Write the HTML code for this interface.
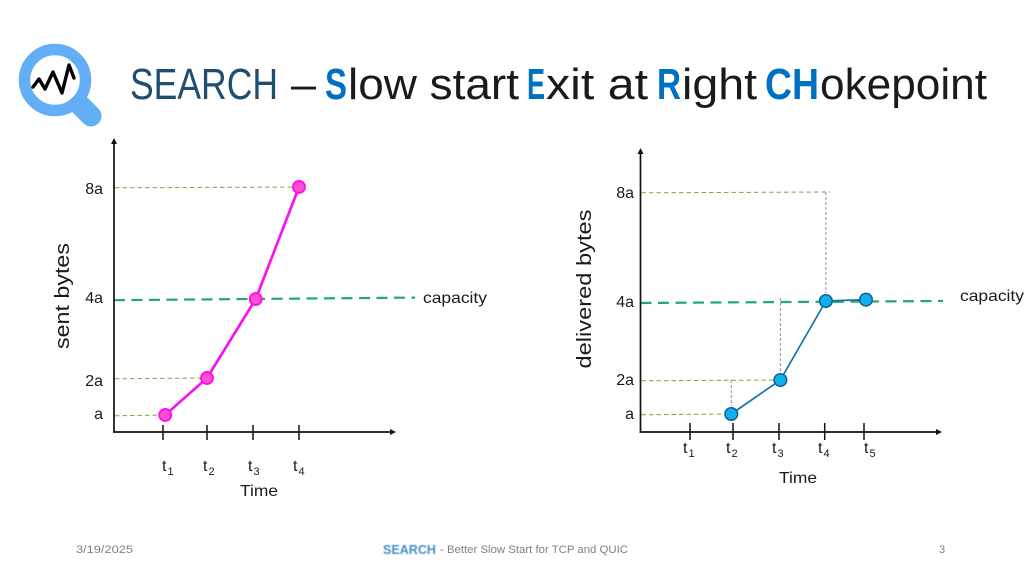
<!DOCTYPE html>
<html lang="en">
<head>
<meta charset="utf-8">
<title>SEARCH – Slow start Exit at Right CHokepoint</title>
<style>
html,body{margin:0;padding:0;background:#fff;width:1024px;height:576px;overflow:hidden}
svg{display:block}
text{font-family:"Liberation Sans",sans-serif;fill:#1a1a1a}
</style>
</head>
<body>
<svg id="slide" width="1024" height="576" viewBox="0 0 1024 576" xmlns="http://www.w3.org/2000/svg">
  <defs>
    <filter id="soft" x="-10%" y="-30%" width="120%" height="160%"><feGaussianBlur stdDeviation="0.6"/></filter>
  </defs>
  <g>
    <line x1="81" y1="106" x2="91" y2="116" stroke="#63aef5" stroke-width="21" stroke-linecap="round"/>
    <circle cx="55" cy="80" r="30.5" fill="#fff" stroke="#63aef5" stroke-width="11.5"/>
    <polyline points="33,87 39,79 45,89 53,72 62,93 69,65 74,78" fill="none" stroke="#000" stroke-width="3.4" stroke-linejoin="round" stroke-linecap="round"/>
  </g>
  <g font-size="44">
    <text x="130" y="99" textLength="148" lengthAdjust="spacingAndGlyphs" style="fill:#1f4e6f">SEARCH</text>
    <text x="291" y="99" textLength="25" lengthAdjust="spacingAndGlyphs">–</text>
    <text x="325" y="99" textLength="22" lengthAdjust="spacingAndGlyphs" font-weight="700" style="fill:#0070c0">S</text>
    <text x="348" y="99" textLength="171" lengthAdjust="spacingAndGlyphs">low start</text>
    <text x="527" y="99" textLength="18" lengthAdjust="spacingAndGlyphs" font-weight="700" style="fill:#0070c0">E</text>
    <text x="546" y="99" textLength="102" lengthAdjust="spacingAndGlyphs">xit at</text>
    <text x="657" y="99" textLength="24" lengthAdjust="spacingAndGlyphs" font-weight="700" style="fill:#0070c0">R</text>
    <text x="682" y="99" textLength="75" lengthAdjust="spacingAndGlyphs">ight</text>
    <text x="765" y="99" textLength="54" lengthAdjust="spacingAndGlyphs" font-weight="700" style="fill:#0070c0">CH</text>
    <text x="820" y="99" textLength="167" lengthAdjust="spacingAndGlyphs">okepoint</text>
  </g>
  <g id="chart-sent"></g>
  <g id="chart-delivered"></g>
  <g font-size="11">
    <text x="76" y="553" textLength="57" lengthAdjust="spacingAndGlyphs" style="fill:#7f7f7f">3/19/2025</text>
    <text x="383" y="554" textLength="53" lengthAdjust="spacingAndGlyphs" font-size="13" font-weight="700" filter="url(#soft)" style="fill:#3f8fc4">SEARCH</text>
    <text x="440" y="553" textLength="188" lengthAdjust="spacingAndGlyphs" style="fill:#7f7f7f">- Better Slow Start for TCP and QUIC</text>
    <text x="939" y="553" style="fill:#7f7f7f">3</text>
  </g>
</svg>
<script>
// Data: left chart (sent bytes)
const sentTicks = ["1", "2", "3", "4"];
const sentLevels = ["a", "2a", "4a", "8a"];
const sentTimes = [1.05, 2, 3.06, 4];
const sentBytes = [1, 2, 4, 8];
const sentCapacity = [3.97, 4.05];
const sentGuideTimes = [1.05, 1.96, null, 4];

// Data: right chart (delivered bytes)
const deliveredTicks = ["1", "2", "3", "4", "5"];
const deliveredLevels = ["a", "2a", "4a", "8a"];
const deliveredTimes = [1.96, 3.03, 4.03, 5.05];
const deliveredBytes = [1, 2, 4, 4.05];
const deliveredCapacity = [3.95, 4];
const deliveredGuideTimes = [1.96, 3.03, null, 4.14];

const levelValues = [1, 2, 4, 8];
const NS = "http://www.w3.org/2000/svg";

function piecewise(domain, range) {
  return function (v) {
    let i = 0;
    while (i < domain.length - 2 && v > domain[i + 1]) i++;
    const t = (v - domain[i]) / (domain[i + 1] - domain[i]);
    return range[i] + t * (range[i + 1] - range[i]);
  };
}
function make(parent, tag, attrs, content) {
  const el = document.createElementNS(NS, tag);
  for (const k in attrs) el.setAttribute(k, attrs[k]);
  if (content !== undefined) el.textContent = content;
  parent.appendChild(el);
  return el;
}
function drawChart(root, cfg) {
  const tickNums = cfg.ticks.map(Number);
  const x = piecewise(tickNums, cfg.xRange);
  const xLabel = piecewise(tickNums, cfg.xLabelRange);
  const y = piecewise(levelValues, cfg.yRange);

  // guides
  cfg.levels.forEach(function (lab, i) {
    const lv = levelValues[i];
    const gt = cfg.guideTimes[i];
    if (gt === null) return;
    const g = make(root, "line", {x1: cfg.axisX + 1, y1: y(lv) + 0.8, x2: x(gt), y2: y(lv), stroke: "#70ad47", "stroke-width": 1, "stroke-dasharray": "4.5 3"});
    
    
  });
  // time droplines
  for (let i = 0; i < cfg.dropFrom.length; i++) {
    const d = cfg.dropFrom[i];
    const dl = make(root, "line", {x1: x(d.t), y1: y(d.top) - d.over, x2: x(d.t), y2: y(d.bottom) - d.gap, stroke: "#8f87b8", "stroke-width": 1, "stroke-dasharray": "3 2"});
    
    
  }
  // capacity
  const cap = make(root, "line", {x1: cfg.axisX, y1: y(cfg.capacity[0]), x2: cfg.capEnd, y2: y(cfg.capacity[1]), stroke: "#1eaa6a", "stroke-width": 2.2, "stroke-dasharray": "11 6.5"});
  
  

  // axes
  const yAxis = make(root, "line", {x1: cfg.axisX, y1: cfg.axisY, x2: cfg.axisX, y2: cfg.axisTop + 4, stroke: "#111", "stroke-width": 1.7});
  
  
  const yHead = make(root, "polygon", {points: (cfg.axisX - 3) + "," + (cfg.axisTop + 6) + " " + (cfg.axisX + 3) + "," + (cfg.axisTop + 6) + " " + cfg.axisX + "," + cfg.axisTop, fill: "#111"});
  
  
  const xAxis = make(root, "line", {x1: cfg.axisX - 1, y1: cfg.axisY, x2: cfg.axisEnd - 4, y2: cfg.axisY, stroke: "#111", "stroke-width": 1.7});
  
  
  const xHead = make(root, "polygon", {points: (cfg.axisEnd - 6) + "," + (cfg.axisY - 3) + " " + (cfg.axisEnd - 6) + "," + (cfg.axisY + 3) + " " + cfg.axisEnd + "," + cfg.axisY, fill: "#111"});
  
  

  // ticks and labels
  cfg.ticks.forEach(function (tk) {
    const n = Number(tk);
    const t = make(root, "line", {x1: x(n), y1: cfg.axisY - cfg.tickUp, x2: x(n), y2: cfg.axisY + 8, stroke: "#111", "stroke-width": 1.5});
    
    
    const lab = make(root, "text", {x: xLabel(n), y: cfg.tickLabelY, "font-size": 16}, "t");
    
    
    const sub = make(lab, "tspan", {dx: 1, dy: 4, "font-size": 11}, tk);
    
    
  });
  cfg.levels.forEach(function (lab, i) {
    const lv = levelValues[i];
    const tl = make(root, "text", {x: cfg.levelLabelX, y: y(lv) + cfg.levelLabelDy[i], "font-size": 16, "text-anchor": "end"}, lab);
    
    
  });

  // series
  const pts = cfg.times.map(function (t, i) { return x(t) + "," + y(cfg.bytes[i]); }).join(" ");
  const line = make(root, "polyline", {points: pts, fill: "none", stroke: cfg.lineColor, "stroke-width": cfg.lineWidth, "stroke-linejoin": "round"});
  
  
  cfg.times.forEach(function (t, i) {
    const c = make(root, "circle", {cx: x(t), cy: y(cfg.bytes[i]), r: cfg.r, fill: cfg.fill, stroke: cfg.stroke, "stroke-width": cfg.strokeWidth});
    
    
  });

  // titles
  const ty = make(root, "text", {transform: "translate(" + cfg.yTitleX + " " + cfg.yTitleY + ") rotate(-90)", "font-size": 20, "text-anchor": "middle", textLength: cfg.yTitleLen, lengthAdjust: "spacingAndGlyphs"}, cfg.yTitle);
  
  
  const tx = make(root, "text", {x: cfg.xTitleX, y: cfg.xTitleY, "font-size": 16, textLength: 38, lengthAdjust: "spacingAndGlyphs"}, "Time");
  
  
  const cl = make(root, "text", {x: cfg.capX, y: cfg.capY, "font-size": 16, textLength: 64, lengthAdjust: "spacingAndGlyphs"}, "capacity");
  
  
}

drawChart(document.getElementById("chart-sent"), {
  ticks: sentTicks, levels: sentLevels, times: sentTimes, bytes: sentBytes, capacity: sentCapacity, guideTimes: sentGuideTimes,
  xRange: [163, 207, 253, 299], xLabelRange: [162, 203, 248, 293], yRange: [415, 378, 299, 187],
  axisX: 114, axisY: 432, axisTop: 138, axisEnd: 396, capEnd: 415, tickUp: 7, tickLabelY: 471,
  levelLabelX: 103, levelLabelDy: [4, 8, 4, 7], dropFrom: [],
  lineColor: "#f514f0", lineWidth: 2.7, r: 6, fill: "#ff4fd0", stroke: "#ff10e8", strokeWidth: 1.9,
  yTitle: "sent bytes", yTitleX: 69, yTitleY: 296, yTitleLen: 106,
  xTitleX: 240, xTitleY: 496, capX: 423, capY: 303
});
drawChart(document.getElementById("chart-delivered"), {
  ticks: deliveredTicks, levels: deliveredLevels, times: deliveredTimes, bytes: deliveredBytes, capacity: deliveredCapacity, guideTimes: deliveredGuideTimes,
  xRange: [690, 733, 779, 824.7, 864], xLabelRange: [683, 726, 772, 818, 864], yRange: [414, 380, 301, 192],
  axisX: 640.5, axisY: 432, axisTop: 148, axisEnd: 942, capEnd: 943, tickUp: 9, tickLabelY: 453,
  levelLabelX: 634, levelLabelDy: [5, 5, 6, 6], dropFrom: [
    {t: 1.96, top: 2, bottom: 1, over: 0, gap: 8},
    {t: 3.03, top: 4, bottom: 2, over: 3, gap: 8},
    {t: 4.03, top: 8, bottom: 4, over: 0, gap: 8}
  ],
  lineColor: "#1272b0", lineWidth: 1.7, r: 6.3, fill: "#0eb0ef", stroke: "#14608c", strokeWidth: 1.5,
  yTitle: "delivered bytes", yTitleX: 591, yTitleY: 289, yTitleLen: 159,
  xTitleX: 779, xTitleY: 483, capX: 960, capY: 301
});
</script>
</body>
</html>
